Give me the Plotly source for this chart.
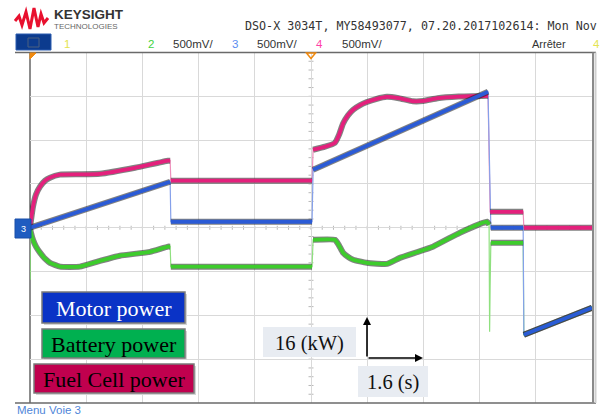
import plotly.graph_objects as go

W, H = 601, 416
PX0, PX1, PY0, PY1 = 30, 592, 52.5, 403   # plot area in page pixels

# ---- data: time [s], power [kW] ----
motor_t = [0.0, 3.99, 4.01, 8.03, 8.06, 13.04, 13.12, 14.04, 14.06, 16.0]
motor_p = [0.0, 16.8, 2.2, 2.2, 21.2, 49.7, 0.0, 0.0, -39.1, -29.2]

fc_t = [0.0, 0.03, 0.085, 0.17, 0.285, 0.43, 0.57, 0.85, 1.42, 1.99, 2.99, 3.93,
        3.99, 4.01, 8.03, 8.06, 8.4, 8.68, 8.8, 8.91, 9.05, 9.2, 9.4, 9.59, 9.85,
        10.16, 10.5, 10.9, 11.2, 11.6, 12.2, 13.04, 13.10, 14.04, 14.06, 16.0]
fc_p = [0.0, 2.9, 7.7, 12.1, 15.0, 17.2, 18.3, 19.4, 19.5, 19.7, 21.9, 24.5,
        24.5, 17.2, 17.2, 28.5, 29.6, 31.0, 34.0, 38.0, 41.0, 43.1, 44.8, 45.9, 47.0,
        47.8, 47.3, 46.2, 46.3, 47.3, 47.9, 48.2, 5.8, 5.8, 0.0, 0.0]

bat_t = [0.0, 0.028, 0.085, 0.171, 0.285, 0.427, 0.569, 0.854, 1.42, 1.99, 2.56,
         3.42, 3.93, 3.99, 4.01, 8.03, 8.06, 8.68, 8.8, 8.91, 9.05, 9.20, 9.59, 10.16,
         10.53, 11.47, 12.24, 13.01, 13.07, 13.085, 13.10, 13.12, 14.04, 14.06, 16.0]
bat_p = [0.0, -1.8, -4.4, -6.9, -9.1, -11.3, -12.8, -14.2, -14.2, -12.1, -10.2,
         -8.8, -6.9, -6.9, -14.2, -14.2, -4.4, -4.4, -6.5, -9.1, -10.6, -11.7, -12.8,
         -13.2, -11.0, -6.9, -1.8, 2.2, 1.1, -38.0, -21.0, -5.5, -5.5, -39.1, -29.2]
bat_spike_t = [0.0, 0.0]
bat_spike_p = [0.0, -19.0]

time_per_div = 1.6
power_per_div = 16
n_xdiv, n_ydiv = 10, 8

legend_labels = ["Motor power", "Battery power", "Fuel Cell power"]
header_text = "DSO-X 3034T, MY58493077, 07.20.2017102614: Mon Nov"
channel_labels = ["1", "2", "3", "4"]
scale_text = "500mV/"


def X(px):
    return px / W


def Y(py):
    return 1 - py / H


def thick_path(t, p, slope=200.0):
    xs, ys = [t[0]], [p[0]]
    for i in range(1, len(t)):
        dt = t[i] - t[i - 1]
        if dt <= 0 or abs(p[i] - p[i - 1]) / dt > slope:
            xs.append(None)
            ys.append(None)
        xs.append(t[i])
        ys.append(p[i])
    return xs, ys


fig = go.Figure()

series = [
    (bat_t, bat_p, "#3dcc2c", "#8fe07f"),
    (fc_t, fc_p, "#e4207c", "#ee8fbb"),
    (motor_t, motor_p, "#2b5bd6", "#85a0ea"),
]
for t, p, col, light in series:
    fig.add_trace(go.Scatter(x=t, y=p, mode="lines", line=dict(color=light, width=1.2),
                             hoverinfo="skip", showlegend=False))
for t, p, col, light in series:
    xs, ys = thick_path(t, p)
    fig.add_trace(go.Scatter(x=xs, y=ys, mode="lines", connectgaps=False,
                             line=dict(color="rgba(25,25,25,0.55)", width=6, shape="spline", smoothing=0.4),
                             hoverinfo="skip", showlegend=False))
    fig.add_trace(go.Scatter(x=xs, y=ys, mode="lines", connectgaps=False,
                             line=dict(color=col, width=3.8, shape="spline", smoothing=0.4),
                             hoverinfo="skip", showlegend=False))
fig.add_trace(go.Scatter(x=bat_spike_t, y=bat_spike_p, mode="lines",
                         line=dict(color="#7ed86e", width=1.5), hoverinfo="skip",
                         showlegend=False, cliponaxis=False))

shapes = []
# center axes minor ticks
cx = (PX0 + PX1) / 2
cy = (PY0 + PY1) / 2
dxp = (PX1 - PX0) / n_xdiv / 5
dyp = (PY1 - PY0) / n_ydiv / 5
for k in range(1, n_xdiv * 5):
    xx = PX0 + k * dxp
    shapes.append(dict(type="line", xref="paper", yref="paper", x0=X(xx), x1=X(xx),
                       y0=Y(cy - 2), y1=Y(cy + 2), line=dict(color="#b8b8b8", width=1), layer="below"))
for k in range(1, n_ydiv * 5):
    yy = PY0 + k * dyp
    shapes.append(dict(type="line", xref="paper", yref="paper", x0=X(cx - 2.5), x1=X(cx + 2.5),
                       y0=Y(yy), y1=Y(yy), line=dict(color="#b8b8b8", width=1), layer="below"))

# frame
shapes += [
    dict(type="line", xref="paper", yref="paper", x0=X(15), x1=X(596), y0=Y(PY0), y1=Y(PY0),
         line=dict(color="#6a6a6a", width=1.5)),
    dict(type="line", xref="paper", yref="paper", x0=X(15), x1=X(596), y0=Y(PY1), y1=Y(PY1),
         line=dict(color="#6a6a6a", width=1.5)),
    dict(type="line", xref="paper", yref="paper", x0=X(PX0), x1=X(PX0), y0=Y(PY0), y1=Y(PY1),
         line=dict(color="#8c8c8c", width=2), layer="below"),
    dict(type="line", xref="paper", yref="paper", x0=X(593), x1=X(593), y0=Y(PY0), y1=Y(PY1),
         line=dict(color="#8a8a8a", width=2)),
    dict(type="line", xref="paper", yref="paper", x0=X(595.5), x1=X(595.5), y0=Y(PY0), y1=Y(PY1),
         line=dict(color="#cfcfcf", width=2)),
]

# Keysight logo wave
logo = [(15, 21), (19, 16), (22, 25), (26, 12), (30, 29), (34, 8), (38, 27), (41, 14), (44, 23), (48, 18)]
path = "M " + " L ".join(f"{X(a):.5f},{Y(b):.5f}" for a, b in logo)
shapes.append(dict(type="path", xref="paper", yref="paper", path=path,
                   line=dict(color="#e8102e", width=3)))

# top-left menu box
shapes.append(dict(type="rect", xref="paper", yref="paper", x0=X(16), x1=X(51), y0=Y(34), y1=Y(50),
                   fillcolor="#0c3b8e", line=dict(color="#2a5cb0", width=1)))
shapes.append(dict(type="rect", xref="paper", yref="paper", x0=X(28), x1=X(39), y0=Y(38), y1=Y(47),
                   fillcolor="rgba(0,0,0,0)", line=dict(color="#4a6080", width=1)))
# ground marker ch3
shapes.append(dict(type="rect", xref="paper", yref="paper", x0=X(15), x1=X(31), y0=Y(219), y1=Y(238),
                   fillcolor="#1f5cc0", line=dict(color="#1a4fa8", width=1)))
# trigger markers
shapes.append(dict(type="path", xref="paper", yref="paper",
                   path=f"M {X(30)},{Y(53)} L {X(36)},{Y(53)} L {X(30)},{Y(59)} Z",
                   fillcolor="#f08a10", line=dict(color="#f08a10", width=1)))
shapes.append(dict(type="path", xref="paper", yref="paper",
                   path=f"M {X(306.5)},{Y(53)} L {X(315.5)},{Y(53)} L {X(311)},{Y(58.5)} Z",
                   fillcolor="rgba(0,0,0,0)", line=dict(color="#f08a10", width=1.5)))

# legend boxes
boxes = [
    (42, 185, 292, 323, "#0a33c6", "white"),
    (42, 185, 329, 358, "#00b050", "black"),
    (34, 194, 364, 393, "#c0004e", "black"),
]
for (x0, x1, y0, y1, fc, tc), lab in zip(boxes, legend_labels):
    shapes.append(dict(type="rect", xref="paper", yref="paper", x0=X(x0 + 2), x1=X(x1 + 2),
                       y0=Y(y0 + 2), y1=Y(y1 + 2), fillcolor="#d4d4d4", line=dict(width=0)))
    shapes.append(dict(type="rect", xref="paper", yref="paper", x0=X(x0), x1=X(x1),
                       y0=Y(y0), y1=Y(y1), fillcolor=fc, line=dict(color="#7a7a7a", width=1.5)))

# scale label boxes
shapes.append(dict(type="rect", xref="paper", yref="paper", x0=X(263), x1=X(356), y0=Y(327), y1=Y(357),
                   fillcolor="#e8ecf2", line=dict(width=0)))
shapes.append(dict(type="rect", xref="paper", yref="paper", x0=X(358), x1=X(428), y0=Y(366), y1=Y(397),
                   fillcolor="#e8ecf2", line=dict(width=0)))

ann = []
serif = "Liberation Serif, Times New Roman, serif"
sans = "Liberation Sans, Arial, sans-serif"


def text(px, py, s, size, color, family=sans, xanchor="center", bold=False):
    ann.append(dict(xref="paper", yref="paper", x=X(px), y=Y(py), text=f"<b>{s}</b>" if bold else s,
                    showarrow=False, xanchor=xanchor, yanchor="middle", borderpad=0,
                    font=dict(size=size, color=color, family=family)))


for (x0, x1, y0, y1, fc, tc), lab in zip(boxes, legend_labels):
    text((x0 + x1) / 2, (y0 + y1) / 2 + 1, lab, 22, tc, serif)

text(309.5, 343, f"{power_per_div} (kW)", 20.5, "#111", serif)
text(393, 382, f"{time_per_div} (s)", 20.5, "#111", serif)

# scale arrows
ann.append(dict(xref="paper", yref="paper", x=X(367), y=Y(317), ax=0, ay=41, text="",
                showarrow=True, arrowhead=2, arrowsize=1, arrowwidth=1.6, arrowcolor="black"))
ann.append(dict(xref="paper", yref="paper", x=X(423), y=Y(358), ax=-56, ay=0, text="",
                showarrow=True, arrowhead=2, arrowsize=1, arrowwidth=1.6, arrowcolor="black"))

# header
text(53, 14.5, "KEYSIGHT", 13.5, "#333", sans, "left", bold=True)
text(53, 26.5, "TECHNOLOGIES", 8, "#666", sans, "left")
text(244, 26, header_text, 11.7, "#333", "DejaVu Sans Mono, monospace", "left")
ch_cols = ["#e4e450", "#3fd43f", "#5a8cf0", "#ff3fa8"]
ch_x = [67, 151, 235, 319]
for lab, col, xx in zip(channel_labels, ch_cols, ch_x):
    text(xx, 44, lab, 11.5, col, sans)
for xx in [172, 256, 341]:
    text(xx, 44, scale_text, 11.5, "#333", sans, "left")
text(531, 44, "Arrêter", 11, "#333", sans, "left")
text(592, 44, "4", 11.5, "#e4e450", sans, "left")
text(23, 228.5, "3", 9, "white", sans)
text(16, 410, "Menu Voie 3", 11.5, "#4f86d9", sans, "left")

fig.update_layout(
    width=W, height=H, margin=dict(l=0, r=0, t=0, b=0),
    paper_bgcolor="white", plot_bgcolor="white",
    shapes=shapes, annotations=ann, showlegend=False,
    xaxis=dict(domain=[X(PX0), X(PX1)], range=[0, time_per_div * n_xdiv], dtick=time_per_div, tick0=0,
               showgrid=True, gridcolor="#d9d9d9", gridwidth=1, zeroline=False,
               showticklabels=False, ticks="", showline=False, fixedrange=True),
    yaxis=dict(domain=[Y(PY1), Y(PY0)], range=[-power_per_div * n_ydiv / 2, power_per_div * n_ydiv / 2],
               dtick=power_per_div, tick0=0, showgrid=True, gridcolor="#d9d9d9", gridwidth=1,
               zeroline=False, showticklabels=False, ticks="", showline=False, fixedrange=True),
)

fig.write_html("out.html")
